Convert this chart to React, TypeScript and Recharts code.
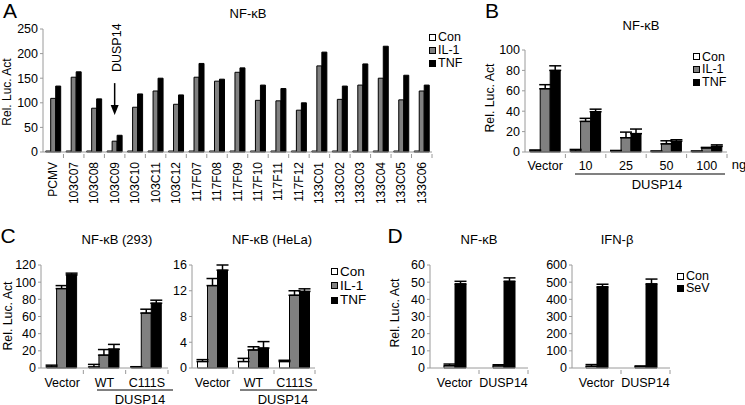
import React from "react";
import { Bar, BarChart, ErrorBar, ReferenceDot, ReferenceLine, XAxis, YAxis } from "recharts";

const FONT = '"Liberation Sans", Arial, Helvetica, sans-serif';
const AXIS = "#9a9a9a";
const GREY = "#808080";

// A: screen of clones
const screenLabels = [
  "PCMV", "103C07", "103C08", "103C09", "103C10", "103C11", "103C12",
  "117F07", "117F08", "117F09", "117F10", "117F11", "117F12",
  "133C01", "133C02", "133C03", "133C04", "133C05", "133C06",
];
const screenCon = [2, 2, 2, 2, 2, 2, 2, 2, 2, 2, 2, 2, 2, 2, 2, 2, 2, 2, 2];
const screenIL1 = [109, 152, 89, 22, 91, 124, 97, 152, 144, 162, 105, 104, 85, 175, 107, 136, 150, 106, 124];
const screenTNF = [134, 163, 108, 34, 118, 150, 116, 180, 148, 171, 136, 129, 100, 203, 134, 179, 215, 156, 136];

// B: dose response
const doseLabels = ["Vector", "10", "25", "50", "100"];
const doseCon = [1, 1, 1, 0.5, 0.5];
const doseConErr = [1, 1.5, 0.5, 0.5, 0.5];
const doseIL1 = [62, 30, 14, 8, 4];
const doseIL1Err = [4, 3, 5.5, 3, 0.5];
const doseTNF = [80, 39.5, 18, 10.5, 5.5];
const doseTNFErr = [4.5, 2.5, 4.5, 1.5, 1.5];

// C: mutants in 293 and HeLa
const mutLabels = ["Vector", "WT", "C111S"];
const c293Con = [1.3, 1.2, 1];
const c293ConErr = [2, 3, 0.5];
const c293IL1 = [92.5, 15, 64];
const c293IL1Err = [3.5, 6.5, 4.5];
const c293TNF = [108.5, 22, 75.5];
const c293TNFErr = [2, 5.5, 3.5];

const helaCon = [1, 1, 1];
const helaConErr = [0.3, 0.5, 0.2];
const helaIL1 = [12.8, 2.8, 11.3];
const helaIL1Err = [1.1, 0.5, 0.7];
const helaTNF = [15.2, 3.1, 11.9];
const helaTNFErr = [0.8, 1.0, 0.4];

// D: SeV
const dLabels = ["Vector", "DUSP14"];
const nfCon = [1.3, 1.2];
const nfConErr = [1, 0.7];
const nfSeV = [49, 50.5];
const nfSeVErr = [1.5, 2];
const ifnCon = [10, 8];
const ifnConErr = [10, 4];
const ifnSeV = [473, 490];
const ifnSeVErr = [15, 28];

const screenData = screenLabels.map((name, i) => ({
  name, con: screenCon[i], il1: screenIL1[i], tnf: screenTNF[i],
}));
const doseData = doseLabels.map((name, i) => ({
  name,
  con: doseCon[i], conErr: [0, doseConErr[i]],
  il1: doseIL1[i], il1Err: [0, doseIL1Err[i]],
  tnf: doseTNF[i], tnfErr: [0, doseTNFErr[i]],
}));
const c293Data = mutLabels.map((name, i) => ({
  name,
  con: c293Con[i], conErr: [0, c293ConErr[i]],
  il1: c293IL1[i], il1Err: [0, c293IL1Err[i]],
  tnf: c293TNF[i], tnfErr: [0, c293TNFErr[i]],
}));
const helaData = mutLabels.map((name, i) => ({
  name,
  con: helaCon[i], conErr: [0, helaConErr[i]],
  il1: helaIL1[i], il1Err: [0, helaIL1Err[i]],
  tnf: helaTNF[i], tnfErr: [0, helaTNFErr[i]],
}));
const nfData = dLabels.map((name, i) => ({
  name, con: nfCon[i], conErr: [0, nfConErr[i]], sev: nfSeV[i], sevErr: [0, nfSeVErr[i]],
}));
const ifnData = dLabels.map((name, i) => ({
  name, con: ifnCon[i], conErr: [0, ifnConErr[i]], sev: ifnSeV[i], sevErr: [0, ifnSeVErr[i]],
}));

const threeKeys = [
  { label: "Con", fill: "#fff" },
  { label: "IL-1", fill: GREY },
  { label: "TNF", fill: "#000" },
];
const twoKeys = [
  { label: "Con", fill: "#fff" },
  { label: "SeV", fill: "#000" },
];

function BandTick(props: any) {
  const { x, y, payload, index, visibleTicksCount, vertical, base = 16 } = props;
  const off = payload?.offset ?? 0;
  const last = index === visibleTicksCount - 1;
  return (
    <g>
      {index > 0 && <line x1={x - off} x2={x - off} y1={y} y2={y + 4} stroke={AXIS} />}
      {last && <line x1={x + off} x2={x + off} y1={y} y2={y + 4} stroke={AXIS} />}
      {vertical ? (
        <text
          x={x}
          y={y + 8}
          transform={`rotate(-90 ${x} ${y + 8})`}
          textAnchor="end"
          dominantBaseline="central"
          fontSize={12}
          fontFamily={FONT}
          fill="#000"
        >
          {payload.value}
        </text>
      ) : (
        <text x={x} y={y + base} textAnchor="middle" fontSize={12.5} fontFamily={FONT} fill="#000">
          {payload.value}
        </text>
      )}
    </g>
  );
}

function Txt({ x, y, size, rotate, children }: any) {
  return (
    <div
      style={{
        position: "absolute",
        left: x,
        top: y,
        transform: `translate(-50%, -50%)${rotate ? ` rotate(${rotate}deg)` : ""}`,
        fontSize: size,
        fontFamily: FONT,
        lineHeight: 1,
        whiteSpace: "nowrap",
        color: "#000",
      }}
    >
      {children}
    </div>
  );
}

function Key({ x, y, items, size, step }: any) {
  return (
    <div style={{ position: "absolute", left: x, top: y, fontFamily: FONT, fontSize: size, lineHeight: `${step}px` }}>
      {items.map((it: any) => (
        <div key={it.label} style={{ display: "flex", alignItems: "center", whiteSpace: "nowrap", height: step }}>
          <span
            style={{
              display: "inline-block",
              width: 7,
              height: 7,
              border: "1px solid #000",
              background: it.fill,
              marginRight: 2,
              boxSizing: "border-box",
            }}
          />
          {it.label}
        </div>
      ))}
    </div>
  );
}

function Bracket({ x1, x2, y }: any) {
  return <div style={{ position: "absolute", left: x1, top: y, width: x2 - x1, height: 1.5, background: GREY }} />;
}

const yTick = { fontSize: 12.5, fill: "#000", fontFamily: FONT };

const place = (left: number, top: number) => ({ position: "absolute" as const, left, top });

export default function App() {
  return (
    <div style={{ position: "absolute", left: 0, top: 0, width: 745, height: 405, background: "#fff", overflow: "hidden" }}>
      {/* A */}
      <div style={place(0, 0)}>
        <BarChart width={470} height={205} data={screenData} margin={{ top: 29, right: 38, bottom: 8, left: 8 }} barCategoryGap={2.7} barGap={0}>
          <XAxis dataKey="name" interval={0} height={45} tickSize={0} stroke={AXIS} tick={<BandTick vertical />} />
          <YAxis width={35} interval={0} domain={[0, 250]} ticks={[0, 50, 100, 150, 200, 250]} tickSize={3} tickMargin={2} stroke={AXIS} tick={yTick} />
          <Bar dataKey="con" fill="#fff" stroke="#000" isAnimationActive={false} />
          <Bar dataKey="il1" fill={GREY} stroke="#000" isAnimationActive={false} />
          <Bar dataKey="tnf" fill="#000" stroke="#000" isAnimationActive={false} />
          <ReferenceLine segment={[{ x: "103C09", y: 140 }, { x: "103C09", y: 84 }]} stroke="#000" strokeWidth={1.5} />
          <ReferenceDot
            x="103C09"
            y={75}
            shape={(p: any) => <path d={`M${p.cx - 4},${p.cy - 10} L${p.cx + 4},${p.cy - 10} L${p.cx},${p.cy} Z`} fill="#000" />}
          />
          <ReferenceDot
            x="103C09"
            y={212}
            shape={(p: any) => (
              <text
                x={p.cx + 2}
                y={p.cy}
                transform={`rotate(-90 ${p.cx + 2} ${p.cy})`}
                textAnchor="middle"
                dominantBaseline="central"
                fontSize={12.5}
                fontFamily={FONT}
              >
                DUSP14
              </text>
            )}
          />
        </BarChart>
      </div>
      <Txt x={10} y={10} size={21}>A</Txt>
      <Txt x={248} y={13} size={13}>NF-κB</Txt>
      <Txt x={7} y={92} size={12} rotate={-90}>Rel. Luc. Act</Txt>
      <Key x={429} y={31.3} items={threeKeys} size={12.5} step={12.7} />

      {/* B */}
      <div style={place(440, 0)}>
        <BarChart width={305} height={205} data={doseData} margin={{ top: 50, right: 18, bottom: 23, left: 50 }} barCategoryGap={5.2} barGap={0}>
          <XAxis dataKey="name" interval={0} height={30} tickSize={0} stroke={AXIS} tick={<BandTick base={16} />} />
          <YAxis width={35} interval={0} domain={[0, 100]} ticks={[0, 20, 40, 60, 80, 100]} tickSize={3} tickMargin={2} stroke={AXIS} tick={yTick} />
          <Bar dataKey="con" fill="#fff" stroke="#000" isAnimationActive={false}>
            <ErrorBar dataKey="conErr" width={6} stroke="#000" direction="y" isAnimationActive={false} />
          </Bar>
          <Bar dataKey="il1" fill={GREY} stroke="#000" isAnimationActive={false}>
            <ErrorBar dataKey="il1Err" width={6} stroke="#000" direction="y" isAnimationActive={false} />
          </Bar>
          <Bar dataKey="tnf" fill="#000" stroke="#000" isAnimationActive={false}>
            <ErrorBar dataKey="tnfErr" width={6} stroke="#000" direction="y" isAnimationActive={false} />
          </Bar>
        </BarChart>
      </div>
      <Txt x={492} y={10} size={21}>B</Txt>
      <Txt x={641} y={25} size={13}>NF-κB</Txt>
      <Txt x={490} y={98} size={12.3} rotate={-90}>Rel. Luc. Act</Txt>
      <Key x={693} y={50.5} items={threeKeys} size={12.5} step={12.7} />
      <Txt x={739} y={164} size={13}>ng</Txt>
      <Bracket x1={575} x2={725} y={173} />
      <Txt x={657} y={184} size={13}>DUSP14</Txt>

      {/* C 293 */}
      <div style={place(0, 205)}>
        <BarChart width={185} height={200} data={c293Data} margin={{ top: 60, right: 17, bottom: 12, left: 11 }} barCategoryGap={5.6} barGap={0}>
          <XAxis dataKey="name" interval={0} height={25} tickSize={0} stroke={AXIS} tick={<BandTick base={17} />} />
          <YAxis width={30} interval={0} domain={[0, 120]} ticks={[0, 20, 40, 60, 80, 100, 120]} tickSize={3} tickMargin={2} stroke={AXIS} tick={yTick} />
          <Bar dataKey="con" fill="#fff" stroke="#000" isAnimationActive={false}>
            <ErrorBar dataKey="conErr" width={6} stroke="#000" direction="y" isAnimationActive={false} />
          </Bar>
          <Bar dataKey="il1" fill={GREY} stroke="#000" isAnimationActive={false}>
            <ErrorBar dataKey="il1Err" width={6} stroke="#000" direction="y" isAnimationActive={false} />
          </Bar>
          <Bar dataKey="tnf" fill="#000" stroke="#000" isAnimationActive={false}>
            <ErrorBar dataKey="tnfErr" width={6} stroke="#000" direction="y" isAnimationActive={false} />
          </Bar>
        </BarChart>
      </div>
      {/* C HeLa */}
      <div style={place(170, 205)}>
        <BarChart width={160} height={200} data={helaData} margin={{ top: 60, right: 15, bottom: 12, left: 0 }} barCategoryGap={5.5} barGap={0}>
          <XAxis dataKey="name" interval={0} height={25} tickSize={0} stroke={AXIS} tick={<BandTick base={17} />} />
          <YAxis width={22} interval={0} domain={[0, 16]} ticks={[0, 4, 8, 12, 16]} tickSize={3} tickMargin={2} stroke={AXIS} tick={yTick} />
          <Bar dataKey="con" fill="#fff" stroke="#000" isAnimationActive={false}>
            <ErrorBar dataKey="conErr" width={6} stroke="#000" direction="y" isAnimationActive={false} />
          </Bar>
          <Bar dataKey="il1" fill={GREY} stroke="#000" isAnimationActive={false}>
            <ErrorBar dataKey="il1Err" width={6} stroke="#000" direction="y" isAnimationActive={false} />
          </Bar>
          <Bar dataKey="tnf" fill="#000" stroke="#000" isAnimationActive={false}>
            <ErrorBar dataKey="tnfErr" width={6} stroke="#000" direction="y" isAnimationActive={false} />
          </Bar>
        </BarChart>
      </div>
      <Txt x={8} y={235} size={21}>C</Txt>
      <Txt x={117} y={239} size={13}>NF-κB (293)</Txt>
      <Txt x={272} y={239} size={13}>NF-κB (HeLa)</Txt>
      <Txt x={8} y={316} size={12.3} rotate={-90}>Rel. Luc. Act</Txt>
      <Key x={331} y={264.6} items={threeKeys} size={13.5} step={14.2} />
      <Bracket x1={97} x2={173} y={389} />
      <Txt x={140} y={399} size={13}>DUSP14</Txt>
      <Bracket x1={240} x2={317} y={389} />
      <Txt x={283} y={399} size={13}>DUSP14</Txt>

      {/* D NF-kB */}
      <div style={place(395, 205)}>
        <BarChart width={140} height={200} data={nfData} margin={{ top: 60, right: 7, bottom: 12, left: 5 }} barCategoryGap={14} barGap={0}>
          <XAxis dataKey="name" interval={0} height={25} tickSize={0} stroke={AXIS} tick={<BandTick base={16.5} />} />
          <YAxis width={30} interval={0} domain={[0, 60]} ticks={[0, 10, 20, 30, 40, 50, 60]} tickSize={3} tickMargin={2} stroke={AXIS} tick={yTick} />
          <Bar dataKey="con" fill="#fff" stroke="#000" isAnimationActive={false}>
            <ErrorBar dataKey="conErr" width={6} stroke="#000" direction="y" isAnimationActive={false} />
          </Bar>
          <Bar dataKey="sev" fill="#000" stroke="#000" isAnimationActive={false}>
            <ErrorBar dataKey="sevErr" width={6} stroke="#000" direction="y" isAnimationActive={false} />
          </Bar>
        </BarChart>
      </div>
      {/* D IFN-b */}
      <div style={place(535, 205)}>
        <BarChart width={140} height={200} data={ifnData} margin={{ top: 60, right: 5, bottom: 12, left: 5 }} barCategoryGap={14} barGap={0}>
          <XAxis dataKey="name" interval={0} height={25} tickSize={0} stroke={AXIS} tick={<BandTick base={16.5} />} />
          <YAxis width={32} interval={0} domain={[0, 600]} ticks={[0, 100, 200, 300, 400, 500, 600]} tickSize={3} tickMargin={2} stroke={AXIS} tick={yTick} />
          <Bar dataKey="con" fill="#fff" stroke="#000" isAnimationActive={false}>
            <ErrorBar dataKey="conErr" width={6} stroke="#000" direction="y" isAnimationActive={false} />
          </Bar>
          <Bar dataKey="sev" fill="#000" stroke="#000" isAnimationActive={false}>
            <ErrorBar dataKey="sevErr" width={6} stroke="#000" direction="y" isAnimationActive={false} />
          </Bar>
        </BarChart>
      </div>
      <Txt x={395} y={235} size={21}>D</Txt>
      <Txt x={479} y={239} size={13}>NF-κB</Txt>
      <Txt x={617} y={239} size={13}>IFN-β</Txt>
      <Txt x={395} y={313} size={12.3} rotate={-90}>Rel. Luc. Act</Txt>
      <Key x={677} y={269.7} items={twoKeys} size={12.5} step={12.7} />
    </div>
  );
}
